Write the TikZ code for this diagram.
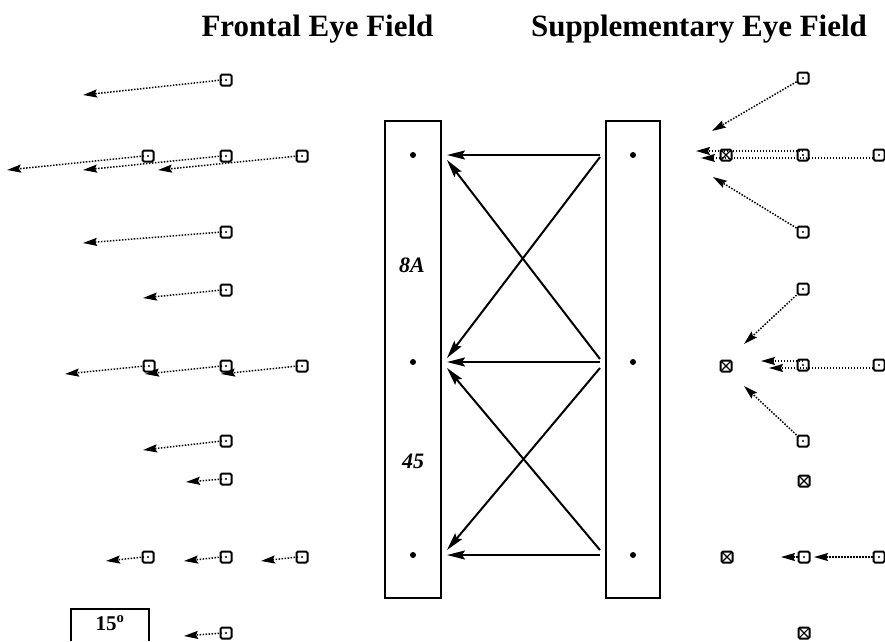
\documentclass[tikz,border=0pt]{standalone}
\usepackage{fontspec}
\setmainfont{Liberation Serif}
\usetikzlibrary{arrows.meta}
\begin{document}
\begin{tikzpicture}[x=1pt,y=-1pt,
  title/.style={font=\fontsize{31}{31}\selectfont\bfseries, anchor=base, inner sep=0},
  area/.style={font=\fontsize{22}{22}\selectfont\bfseries\itshape, anchor=base, inner sep=0},
  colbox/.style={draw, line width=1.6pt, minimum width=#1, minimum height=477pt, inner sep=0},
  celldot/.style={circle, fill, inner sep=0, minimum size=6pt},
  sq/.style={draw, line width=2pt, rounded corners=1.5pt, minimum size=11pt, inner sep=0,
    path picture={\fill (path picture bounding box.center) circle (1.1pt);}},
  xsq/.style={draw, line width=2pt, rounded corners=1.5pt, minimum size=11pt, inner sep=0,
    path picture={\draw[line width=1.1pt] (path picture bounding box.south west) -- (path picture bounding box.north east)
      (path picture bounding box.north west) -- (path picture bounding box.south east);}},
  vec/.style={line width=1.5pt, dash pattern=on 1.5pt off 1.5pt, -{Stealth[length=14pt,width=8pt,inset=2pt]}},
  proj/.style={line width=2pt, -{Stealth[length=18pt,width=9pt,inset=3pt]}}
]
\useasboundingbox (0,0) rectangle (885,641);

% titles
\node[title] (fef) at (317.5,36) {Frontal Eye Field};
\node[title] (sef) at (699,36) {Supplementary Eye Field};

% columns
\node[colbox=56pt] (lbox) at (413,359.5) {};
\node[colbox=54pt] (rbox) at (633,359.5) {};
\node[area] (a8) at (412,272) {8A};
\node[area] (a45) at (413,468) {45};

\node[celldot] (l1) at (413,155) {};
\node[celldot] (l2) at (413,362) {};
\node[celldot] (l3) at (413,555) {};
\node[celldot] (r1) at (633,155) {};
\node[celldot] (r2) at (633,362) {};
\node[celldot] (r3) at (633,555) {};

% projections
\coordinate (s1) at (600,155);
\coordinate (s2) at (600,362);
\coordinate (s3) at (600,555);
\coordinate (e1) at (447,155);
\coordinate (e2) at (447,362);
\coordinate (e3) at (447,555);
\coordinate (s1d) at (600,157);
\coordinate (e2u) at (447,358);
\coordinate (s2u) at (600,359);
\coordinate (e1d) at (447,160);
\coordinate (s2d) at (600,368);
\coordinate (e3u) at (447,550);
\coordinate (s3u) at (600,550);
\coordinate (e2d) at (447,368);
\draw[proj] (s1) -- (e1);
\draw[proj] (s2) -- (e2);
\draw[proj] (s3) -- (e3);
\draw[proj] (s1d) -- (e2u);
\draw[proj] (s2u) -- (e1d);
\draw[proj] (s2d) -- (e3u);
\draw[proj] (s3u) -- (e2d);

% FEF vectors
\node[sq] (f1) at (226,80) {};
\node[sq] (f2a) at (148,156) {};
\node[sq] (f2b) at (226,156) {};
\node[sq] (f2c) at (302,156) {};
\node[sq] (f3) at (226,232) {};
\node[sq] (f4) at (226,290) {};
\node[sq] (f5a) at (149,366) {};
\node[sq] (f5b) at (226,366) {};
\node[sq] (f5c) at (302,366) {};
\node[sq] (f6) at (226,441) {};
\node[sq] (f7) at (226,479) {};
\node[sq] (f8a) at (148,557) {};
\node[sq] (f8b) at (226,557) {};
\node[sq] (f8c) at (302,557) {};
\node[sq] (f9) at (226,633) {};

\coordinate (t1) at (83,95);
\coordinate (t2a) at (7,170);
\coordinate (t2b) at (83,170);
\coordinate (t2c) at (158,170);
\coordinate (t3) at (83,243);
\coordinate (t4) at (143,298);
\coordinate (t5a) at (65,374);
\coordinate (t5b) at (145,374);
\coordinate (t5c) at (221,374);
\coordinate (t6) at (143,450);
\coordinate (t7) at (186,482);
\coordinate (t8a) at (106,561);
\coordinate (t8b) at (184,561);
\coordinate (t8c) at (261,561);
\coordinate (t9) at (184,636);

\foreach \n in {1,2a,2b,2c,3,4,5a,5b,5c,6,7,8a,8b,8c,9}
  \draw[vec] (f\n.center) ++(-4,0) -- (t\n);

% SEF vectors
\node[sq] (g1a) at (803,78) {};
\node[sq] (g1b) at (803,155) {};
\node[sq] (g1c) at (879,155) {};
\node[xsq] (x1) at (726,155) {};
\node[sq] (g1d) at (803,232) {};

\node[sq] (g2a) at (803,289) {};
\node[sq] (g2b) at (803,365) {};
\node[sq] (g2c) at (879,365) {};
\node[xsq] (x2) at (726,366) {};
\node[sq] (g2d) at (803,441) {};

\node[xsq] (x3) at (727,557) {};
\node[xsq] (x4) at (804,481) {};
\node[sq] (g3b) at (804,557) {};
\node[sq] (g3c) at (879,557) {};
\node[xsq] (x5) at (804,633) {};

\coordinate (u1a) at (712,131);
\coordinate (u1d) at (713,177);
\coordinate (u1b) at (696,151);
\coordinate (u1c) at (701,158);
\coordinate (u2a) at (744,344);
\coordinate (u2d) at (744,386);
\coordinate (u2b) at (761,361);
\coordinate (u2c) at (769,368);
\coordinate (u3b) at (781,557);
\coordinate (u3c) at (814,557);

\draw[vec] (g1a) -- (u1a);
\draw[vec] (g1d) -- (u1d);
\draw[vec] (803,151) -- (u1b);
\draw[vec] (873,158) -- (u1c);
\draw[vec] (g2a) -- (u2a);
\draw[vec] (g2d) -- (u2d);
\draw[vec] (803,361) -- (u2b);
\draw[vec] (873,368) -- (u2c);
\draw[vec] (g3b.west) -- (u3b);
\draw[vec] (g3c.west) -- (u3c);

% scale bar
\draw[line width=1.5pt] (71,641) -- (71,609) -- (149,609) -- (149,641);
\node[font=\fontsize{21}{21}\selectfont\bfseries, anchor=base, inner sep=0] (scale) at (110,630) {15\textsuperscript{o}};
\end{tikzpicture}
\end{document}
